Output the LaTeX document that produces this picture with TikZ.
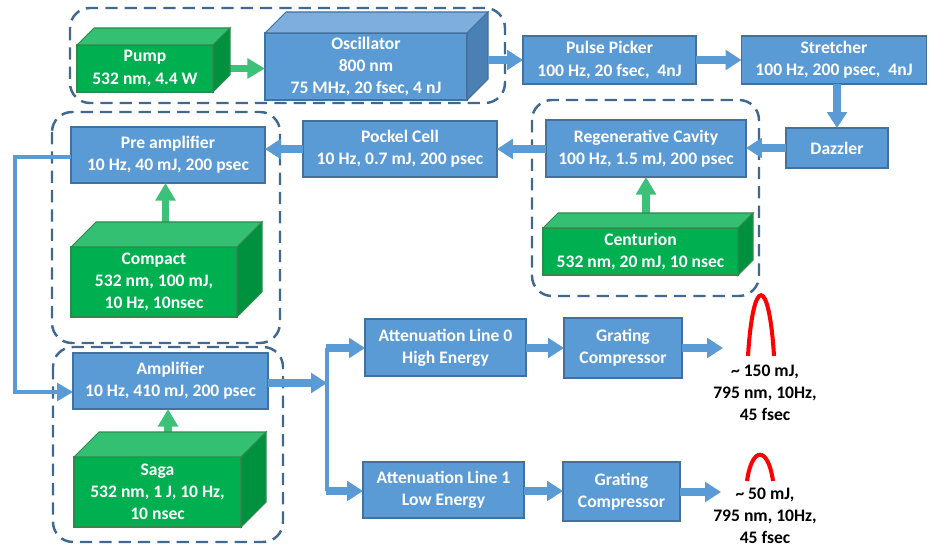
\documentclass[tikz,border=0pt]{standalone}
\usepackage{fontspec}
\setmainfont{Carlito}
\usepackage{tikz}
\usetikzlibrary{arrows.meta}
\usetikzlibrary{calc}
\definecolor{boxblue}{HTML}{5B9BD5}
\definecolor{boxedge}{HTML}{41719C}
\definecolor{osctop}{HTML}{7EAEDD}
\definecolor{oscside}{HTML}{4A80B4}
\definecolor{greenfront}{HTML}{00B050}
\definecolor{greentop}{HTML}{33C072}
\definecolor{greenside}{HTML}{00913E}
\definecolor{greenedge}{HTML}{2E8B4E}
\definecolor{greenarrow}{HTML}{3DC077}
\definecolor{groupline}{HTML}{41698F}
\definecolor{pulsered}{HTML}{FF0000}

\begin{document}
\begin{tikzpicture}[x=0.2mm, y=-0.2mm,
  font=\bfseries\fontsize{10}{12.6}\selectfont,
  stage/.style={draw=boxedge, line width=0.6pt, fill=boxblue, text=white,
    align=center, inner sep=1pt, outer sep=0pt},
  source/.style={stage, draw=greenedge, fill=greenfront},
  flow/.style={draw=boxblue, line width=4.5pt, -{Triangle[width=11pt,length=9pt]}},
  feed/.style={draw=boxblue, line width=2.5pt},
  feedarrow/.style={feed, -{Triangle[width=10pt,length=9pt]}},
  pumpflow/.style={draw=greenarrow, line width=4pt, -{Triangle[width=11pt,length=10pt]}},
  group/.style={draw=groupline, line width=1.4pt, dash pattern=on 7pt off 4pt, rounded corners=4mm},
  pulse/.style={draw=pulsered, line width=2.3pt},
  result/.style={align=center, text=black, inner sep=0pt}]
  \useasboundingbox (0,0) rectangle (929,548);

  % groups
  \draw[group] (70,8) rectangle (505,103);
  \draw[group] (532,100) rectangle (759,296);
  \draw[group] (52,112) rectangle (280,343);
  \draw[group] (53,347) rectangle (283,542);

  % front faces of the lasers
  \node[source, minimum width=27.2mm, minimum height=9.4mm] at (145,68.5) (pump) {Pump\\532 nm, 4.4 W};
  \node[stage, minimum width=40.4mm, minimum height=13.4mm] at (366,66.5) (osc) {Oscillator\\800 nm\\75 MHz, 20 fsec, 4 nJ};
  \node[source, minimum width=33.2mm, minimum height=14mm] at (154,282) (compact) {Compact\\532 nm, 100 mJ,\\ 10 Hz, 10nsec};
  \node[source, minimum width=39mm, minimum height=9.4mm] at (640.5,251.5) (centurion) {Centurion\\532 nm, 20 mJ, 10 nsec};
  \node[source, minimum width=33.4mm, minimum height=14mm] at (157.5,492) (saga) {Saga\\532 nm, 1 J, 10 Hz,\\10 nsec};

  % stages
  \node[stage, minimum width=34.6mm, minimum height=9.6mm] at (609.5,60) (picker) {Pulse Picker\\100 Hz, 20 fsec,~ 4nJ};
  \node[stage, minimum width=37mm, minimum height=9.6mm] at (834,60) (stretcher) {Stretcher\\100 Hz, 200 psec,~ 4nJ};
  \node[stage, minimum width=20.4mm, minimum height=8mm] at (837,148) (dazzler) {Dazzler};
  \node[stage, minimum width=40mm, minimum height=11.4mm] at (646,148.5) (regen) {Regenerative Cavity\\100 Hz, 1.5 mJ, 200 psec};
  \node[stage, minimum width=38.8mm, minimum height=11.2mm] at (400,149) (pockel) {Pockel Cell\\10 Hz, 0.7 mJ, 200 psec};
  \node[stage, minimum width=38.8mm, minimum height=11.2mm] at (168,155) (preamp) {Pre amplifier\\10 Hz, 40 mJ, 200 psec};
  \node[stage, minimum width=39mm, minimum height=11.2mm] at (170.5,381) (amp) {Amplifier\\10 Hz, 410 mJ, 200 psec};
  \node[stage, minimum width=32.2mm, minimum height=11.4mm] at (445.5,347.5) (att0) {Attenuation Line 0\\High Energy};
  \node[stage, minimum width=23.6mm, minimum height=12mm] at (623,348) (grating0) {Grating\\Compressor};
  \node[stage, minimum width=32.2mm, minimum height=11.2mm] at (443.5,490) (att1) {Attenuation Line 1\\Low Energy};
  \node[stage, minimum width=23.4mm, minimum height=11.8mm] at (621.5,491.5) (grating1) {Grating\\Compressor};

  % pump arrows, partly hidden by the top faces
  \draw[pumpflow] (pump.east) -- (osc.west |- pump.east);
  \draw[pumpflow] (regen.south |- centurion.north) -- (regen.south);
  \draw[pumpflow] ([xshift=-0.5mm]preamp.south |- compact.north) -- ([xshift=-0.5mm]preamp.south);
  \draw[pumpflow] ([xshift=-0.5mm]amp.south |- saga.north) -- ([xshift=-0.5mm]amp.south);

  % top and side faces
  \foreach \n/\d/\tc/\sc/\ec in {pump/17/greentop/greenside/greenedge,
      osc/21/osctop/oscside/boxedge, compact/25/greentop/greenside/greenedge,
      centurion/15/greentop/greenside/greenedge, saga/25/greentop/greenside/greenedge}
  {
  \filldraw[fill=\tc, draw=\ec, line width=0.6pt] (\n.north west) -- ++(\d,-\d)
    -- ($(\n.north east)+(\d,-\d)$) -- (\n.north east) -- cycle;
  \filldraw[fill=\sc, draw=\ec, line width=0.6pt] (\n.north east) -- ++(\d,-\d)
    -- ($(\n.south east)+(\d,-\d)$) -- (\n.south east) -- cycle;
  }

  % beam path
  \coordinate (oscout) at (488,60);
  \draw[flow] (oscout) -- (picker.west);
  \draw[flow] (picker.east) -- (stretcher.west);
  \draw[flow] (dazzler.north |- stretcher.south) -- (dazzler.north);
  \draw[flow] (dazzler.west) -- (regen.east |- dazzler.west);
  \draw[flow] (regen.west |- pockel.east) -- (pockel.east);
  \draw[flow] (pockel.west) -- (preamp.east |- pockel.west);
  \draw[feedarrow] ([yshift=-0.4mm]preamp.west) -- ++(-56,0) |- ([yshift=-2.2mm]amp.west);

  \coordinate (split) at (327,383);
  \coordinate (fork0) at (327,348);
  \coordinate (fork1) at (327,491);
  \draw[flow] (amp.east |- split) -- (split);
  \draw[feed] (fork0) -- (fork1);
  \draw[flow] ([xshift=-0.25mm]fork0) -- (att0.west |- fork0);
  \draw[flow] ([xshift=-0.25mm]fork1) -- (att1.west |- fork1);
  \draw[flow] (att0.east |- fork0) -- (grating0.west |- fork0);
  \draw[flow] (att1.east |- fork1) -- (grating1.west |- fork1);

  \coordinate (out0) at (723,348);
  \coordinate (out1) at (721,492);
  \draw[flow] (grating0.east |- out0) -- (out0);
  \draw[flow] (grating1.east |- out1) -- (out1);

  % output pulses
  \draw[pulse] (748,356) .. controls (753,275) and (769,275) .. (774,356);
  \draw[pulse] (747,481) .. controls (752,446) and (768,446) .. (773,481);
  \node[result] at (765,393) (res0) {\textasciitilde{} 150 mJ,\\795 nm, 10Hz,\\45 fsec};
  \node[result] at (765,516) (res1) {\textasciitilde{} 50 mJ,\\795 nm, 10Hz,\\45 fsec};
\end{tikzpicture}
\end{document}
